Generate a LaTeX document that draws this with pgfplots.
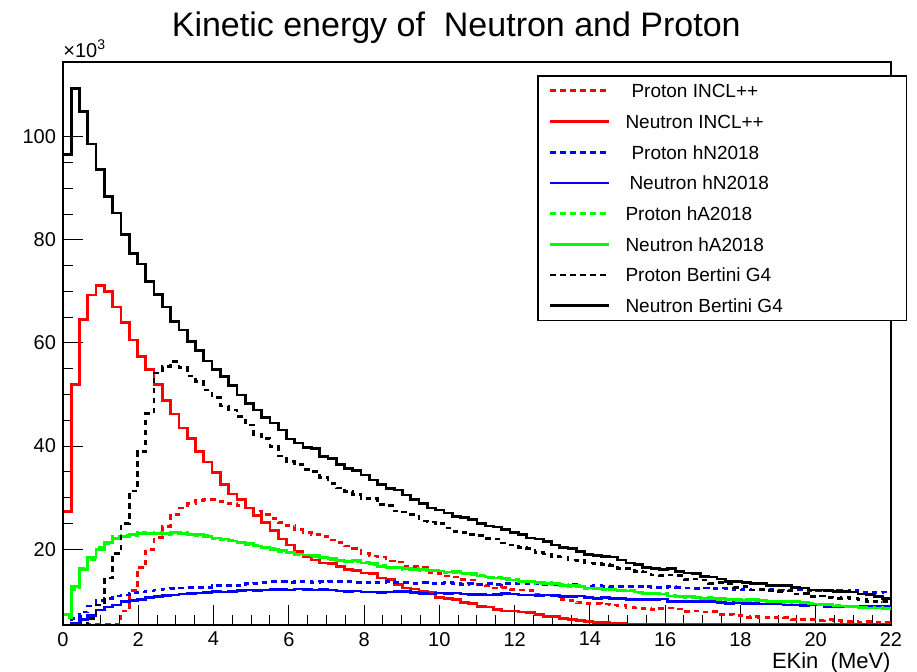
\documentclass[border=0pt]{standalone}
\usepackage{fontspec}
\setmainfont{Liberation Sans}
\usepackage{pgfplots}
\usepackage{pgfplotstable}
\pgfplotsset{compat=1.18}
\definecolor{rootgreen}{RGB}{0,255,0}
\definecolor{rootblue}{RGB}{0,0,255}
\definecolor{rootred}{RGB}{255,0,0}

% bin width 0.22 MeV, values in units of 10^3 counts
\pgfplotstableread{
x pI nI pN nN pA nA pB nB
0 0 0 0 0 0 0 0 0
0.00 0 27.3 5.0 5.0 6.8 7.3 3.0 96.5
0.22 0 52.0 6.5 5.6 12.2 12.8 3.0 109.4
0.44 0 64.5 7.8 6.4 16.3 16.0 4.5 104.9
0.66 5.35 69.3 9.0 7.2 18.0 18.4 6.5 98.6
0.88 5.35 71.1 10.0 8.2 20.3 19.9 9.2 93.6
1.10 5.35 70.0 10.5 8.8 21.0 21.3 14.4 88.4
1.32 5.5 67.0 10.9 9.2 22.4 22.1 19.2 85.2
1.54 8.0 64.0 11.1 9.8 22.7 22.5 25.0 81.1
1.76 12.0 60.6 11.5 10.1 22.6 22.8 31.3 77.3
1.98 16.5 57.4 11.7 10.3 23.2 23.0 38.9 75.3
2.20 20.0 54.9 11.9 10.6 23.0 23.1 46.3 71.9
2.42 22.3 51.9 12.1 10.8 23.3 23.1 54.2 69.4
2.64 24.4 48.8 12.3 11.0 22.9 23.0 55.4 67.0
2.86 26.8 46.2 12.4 11.1 23.0 23.2 56.4 64.1
3.08 28.0 43.5 12.5 11.3 23.2 23.0 55.2 62.5
3.30 28.8 41.5 12.6 11.4 22.8 22.9 53.6 60.3
3.52 29.4 38.9 12.6 11.5 22.6 22.8 52.5 58.6
3.74 29.6 36.9 12.6 11.6 22.6 22.5 50.9 56.5
3.96 29.6 34.9 12.9 11.8 22.1 22.2 49.4 54.9
4.18 29.3 32.6 12.9 11.7 21.8 22.0 47.8 53.5
4.40 28.9 30.7 13.0 11.8 21.7 21.6 47.0 51.7
4.62 28.5 29.6 12.9 12.0 21.2 21.3 45.7 49.9
4.84 28.0 28.0 13.3 12.1 20.9 21.1 44.1 48.3
5.06 27.4 26.5 13.4 12.0 20.7 20.6 42.3 47.0
5.28 26.7 25.2 13.6 12.1 20.3 20.4 41.5 45.6
5.50 26.0 23.6 13.7 12.2 20.1 20.0 39.9 44.5
5.72 25.2 22.0 13.7 12.2 19.6 19.8 38.1 43.1
5.94 24.6 20.8 13.6 12.1 19.4 19.3 37.0 41.4
6.16 23.8 19.5 13.7 12.3 19.0 19.1 36.4 40.6
6.38 23.3 18.6 13.8 12.2 18.9 18.9 35.4 39.7
6.60 22.9 17.9 13.6 12.1 18.6 18.8 35.1 39.5
6.82 22.5 17.3 13.7 12.2 18.5 18.4 33.9 38.0
7.04 21.8 17.2 13.8 12.1 18.0 18.2 32.8 37.6
7.26 21.3 16.6 13.7 11.9 17.9 17.8 31.9 36.4
7.48 20.6 16.0 13.8 11.8 17.5 17.6 31.2 35.7
7.70 20.2 15.9 13.6 11.9 17.6 17.8 30.6 35.2
7.92 19.2 15.4 13.6 11.7 17.4 17.3 29.9 34.4
8.14 18.7 15.3 13.5 11.7 17.0 17.2 29.8 33.4
8.36 18.5 14.4 13.6 11.6 16.8 16.7 28.7 32.5
8.58 17.7 14.1 13.7 11.7 16.4 16.5 28.5 31.8
8.80 17.5 13.1 13.5 11.8 16.5 16.4 27.4 31.5
9.02 16.7 12.5 13.5 11.8 16.1 16.2 27.2 30.5
9.24 16.6 12.3 13.4 11.6 16.2 16.1 26.7 29.6
9.46 16.4 11.8 13.5 11.4 15.9 16.0 25.5 28.9
9.68 15.5 11.7 13.4 11.3 15.8 15.9 25.3 28.0
9.90 15.3 10.6 13.3 11.5 15.9 15.8 25.0 27.6
10.12 14.8 10.5 13.5 11.4 15.5 15.6 24.1 27.0
10.34 14.6 10.2 13.3 11.5 15.5 15.7 23.5 26.4
10.56 14.1 9.6 13.2 11.3 15.3 15.4 23.3 26.2
10.78 14.0 9.5 13.3 11.2 15.1 15.3 22.8 25.7
11.00 13.2 8.9 13.2 11.2 14.9 14.8 22.7 25.0
11.22 13.0 8.8 13.3 11.1 14.5 14.6 22.1 24.5
11.44 12.5 8.3 13.2 11.2 14.5 14.4 22.0 24.3
11.66 12.6 8.0 13.4 11.4 14.1 14.3 21.2 23.8
11.88 12.2 8.0 13.4 11.3 14.1 14.0 20.8 23.3
12.10 12.1 7.8 13.3 11.1 13.7 13.8 20.3 22.8
12.32 12.0 7.7 13.4 11.1 13.8 13.7 20.1 22.2
12.54 11.2 7.3 13.3 11.0 13.4 13.5 19.3 22.0
12.76 11.1 7.0 13.1 11.1 13.5 13.4 19.1 21.5
12.98 11.0 6.9 13.1 11.0 13.2 13.3 18.6 20.8
13.20 10.3 6.5 13.0 10.8 13.1 13.0 18.5 20.3
13.42 10.1 6.4 13.1 10.8 12.8 12.9 17.9 20.1
13.64 9.6 6.2 12.8 10.9 12.9 12.8 17.8 19.5
13.86 9.5 6.0 12.8 10.7 12.4 12.5 17.3 19.0
14.08 9.5 5.8 12.9 10.5 12.5 12.4 17.2 18.8
14.30 9.4 5.8 12.8 10.6 12.2 12.3 17.0 18.6
14.52 9.2 5.6 12.7 10.5 12.2 12.1 16.9 18.5
14.74 9.1 5.6 12.8 10.4 11.9 12.0 16.3 17.9
14.96 8.7 5.5 12.8 10.2 12.0 11.9 16.2 17.3
15.18 8.6 5.5 12.7 10.3 11.6 11.7 15.7 17.0
15.40 8.5 5.4 12.8 10.2 11.5 11.4 15.6 16.4
15.62 8.3 5.4 12.6 10.2 11.3 11.4 15.0 16.3
15.84 8.5 5.35 12.6 10.35 11.4 11.3 14.9 16.1
16.06 8.6 5.35 12.7 9.9 11.0 10.9 15.0 16.2
16.28 8.4 5.35 12.6 9.85 10.9 10.8 14.9 15.7
16.50 7.9 5.35 12.5 9.9 10.7 10.8 14.1 15.4
16.72 8.0 5.35 12.4 9.8 10.8 10.7 14.2 15.3
16.94 7.8 5.35 12.5 9.85 10.4 10.5 14.0 14.7
17.16 7.9 5.35 12.4 9.8 10.6 10.5 13.4 14.6
17.38 7.3 5.35 12.5 9.7 10.3 10.4 13.5 14.2
17.60 7.4 5.35 12.4 9.5 10.3 10.2 13.3 13.7
17.82 7.2 5.35 12.1 9.6 10.1 10.2 12.6 13.8
18.04 6.8 5.35 12.2 9.5 10.2 10.1 12.7 13.6
18.26 6.9 5.35 12.1 9.5 10.0 10.2 12.1 13.4
18.48 6.8 5.35 12.1 9.4 10.1 10.0 12.2 13.3
18.70 6.7 5.35 12.2 9.5 9.8 9.9 12.0 12.95
18.92 6.8 5.35 12.1 9.4 9.9 9.85 11.8 13.0
19.14 6.7 5.35 12.0 9.2 9.7 9.8 11.9 12.9
19.36 6.3 5.35 12.1 9.2 9.8 9.9 11.3 12.6
19.58 6.4 5.35 12.1 9.1 9.6 9.7 11.4 12.5
19.80 6.3 5.35 12.0 9.2 9.5 9.4 10.8 12.1
20.02 6.2 5.35 11.9 9.2 9.3 9.4 10.9 12.1
20.24 6.3 5.35 12.0 8.9 9.4 9.3 10.7 12.0
20.46 6.2 5.35 12.0 8.9 9.1 9.0 10.5 11.8
20.68 6.0 5.35 11.9 8.8 8.9 9.0 10.6 11.8
20.90 6.0 5.35 12.0 8.9 9.0 8.9 10.4 11.7
21.12 5.9 5.35 11.6 9.0 8.8 8.7 10.2 11.3
21.34 6.0 5.35 11.7 8.9 8.6 8.6 9.85 11.2
21.56 5.9 5.35 11.6 8.9 8.7 8.6 9.9 10.8
21.78 5.8 5.35 11.7 8.9 8.5 8.5 9.8 10.4
22.00 5.8 5.35 11.7 8.9 8.5 8.5 9.8 10.4
}\data

\newcommand{\legtxt}[1]{\makebox[135pt][l]{\rule{0pt}{9.5pt}#1}}

\begin{document}
\begin{tikzpicture}
\useasboundingbox (-31.5pt,-23pt) rectangle (427pt,312.5pt);
\begin{axis}[
  at={(0pt,0pt)}, anchor=south west,
  scale only axis, width=414pt, height=281.5pt,
  xmin=0, xmax=22, ymin=5.3, ymax=114.5,
  xtick={0,2,...,22}, ytick={20,40,60,80,100},
  minor x tick num=3, minor y tick num=3,
  tick pos=left, tick align=inside,
  major tick length=10pt, minor tick length=5pt,
  every tick/.style={black, line width=0.5pt},
  axis line style={line width=0.6pt},
  ticklabel style={font=\fontsize{10}{12}\selectfont},
  /pgf/number format/assume math mode=true,
  scaled ticks=false,
  clip mode=individual,
  legend cell align=left,
  legend style={at={(0.5725,0.977)}, anchor=north west, draw=black, line width=0.8pt,
    fill=white, inner xsep=5.5pt, inner ysep=1.5pt, row sep=3.35pt, column sep=7.5pt,
    font=\fontsize{9.5}{11}\selectfont, cells={anchor=west},
    nodes={inner sep=0pt, text depth=2.5pt}},
  legend image code/.code={\draw[#1] plot coordinates {(0pt,0pt) (14.75pt,0pt) (29.5pt,0pt)};},
  dsh/.style={dash pattern=on 2.8pt off 2.2pt},
]
\addplot[const plot, rootred, line width=1.35pt, dsh] table[x=x,y=pI]{\data};
\addlegendentry{\legtxt{\hspace{3pt}Proton INCL++}}
\addplot[const plot, rootred, line width=1.35pt] table[x=x,y=nI]{\data};
\addlegendentry{\legtxt{Neutron INCL++}}
\addplot[const plot, rootblue, line width=1.35pt, dsh] table[x=x,y=pN]{\data};
\addlegendentry{\legtxt{\hspace{3pt}Proton hN2018}}
\addplot[const plot, rootblue, line width=1.35pt] table[x=x,y=nN]{\data};
\addlegendentry{\legtxt{\hspace{2pt}Neutron hN2018}}
\addplot[const plot, rootgreen, line width=1.35pt, dsh] table[x=x,y=pA]{\data};
\addlegendentry{\legtxt{Proton hA2018}}
\addplot[const plot, rootgreen, line width=1.35pt] table[x=x,y=nA]{\data};
\addlegendentry{\legtxt{Neutron hA2018}}
\addplot[const plot, black, line width=1.35pt, dsh] table[x=x,y=pB]{\data};
\addlegendentry{\legtxt{Proton Bertini G4}}
\addplot[const plot, black, line width=1.35pt] table[x=x,y=nB]{\data};
\addlegendentry{\legtxt{Neutron Bertini G4}}
\draw[line width=1.1pt] (rel axis cs:0,1) -- (rel axis cs:0,0) -- (rel axis cs:1,0);
\node[anchor=base, font=\fontsize{17}{20}\selectfont, yshift=13pt] at (rel axis cs:0.475,1) {Kinetic energy of\ \ Neutron and Proton};
\node[anchor=base west, font=\fontsize{10}{11}\selectfont, inner sep=0pt, yshift=2.5pt] at (rel axis cs:0,1) {×10\textsuperscript{3}};
\node[anchor=base east, font=\fontsize{11}{13}\selectfont, inner sep=0pt, yshift=-21.5pt] at (rel axis cs:1,0) {EKin\ \ (MeV)};
\end{axis}
\end{tikzpicture}
\end{document}
